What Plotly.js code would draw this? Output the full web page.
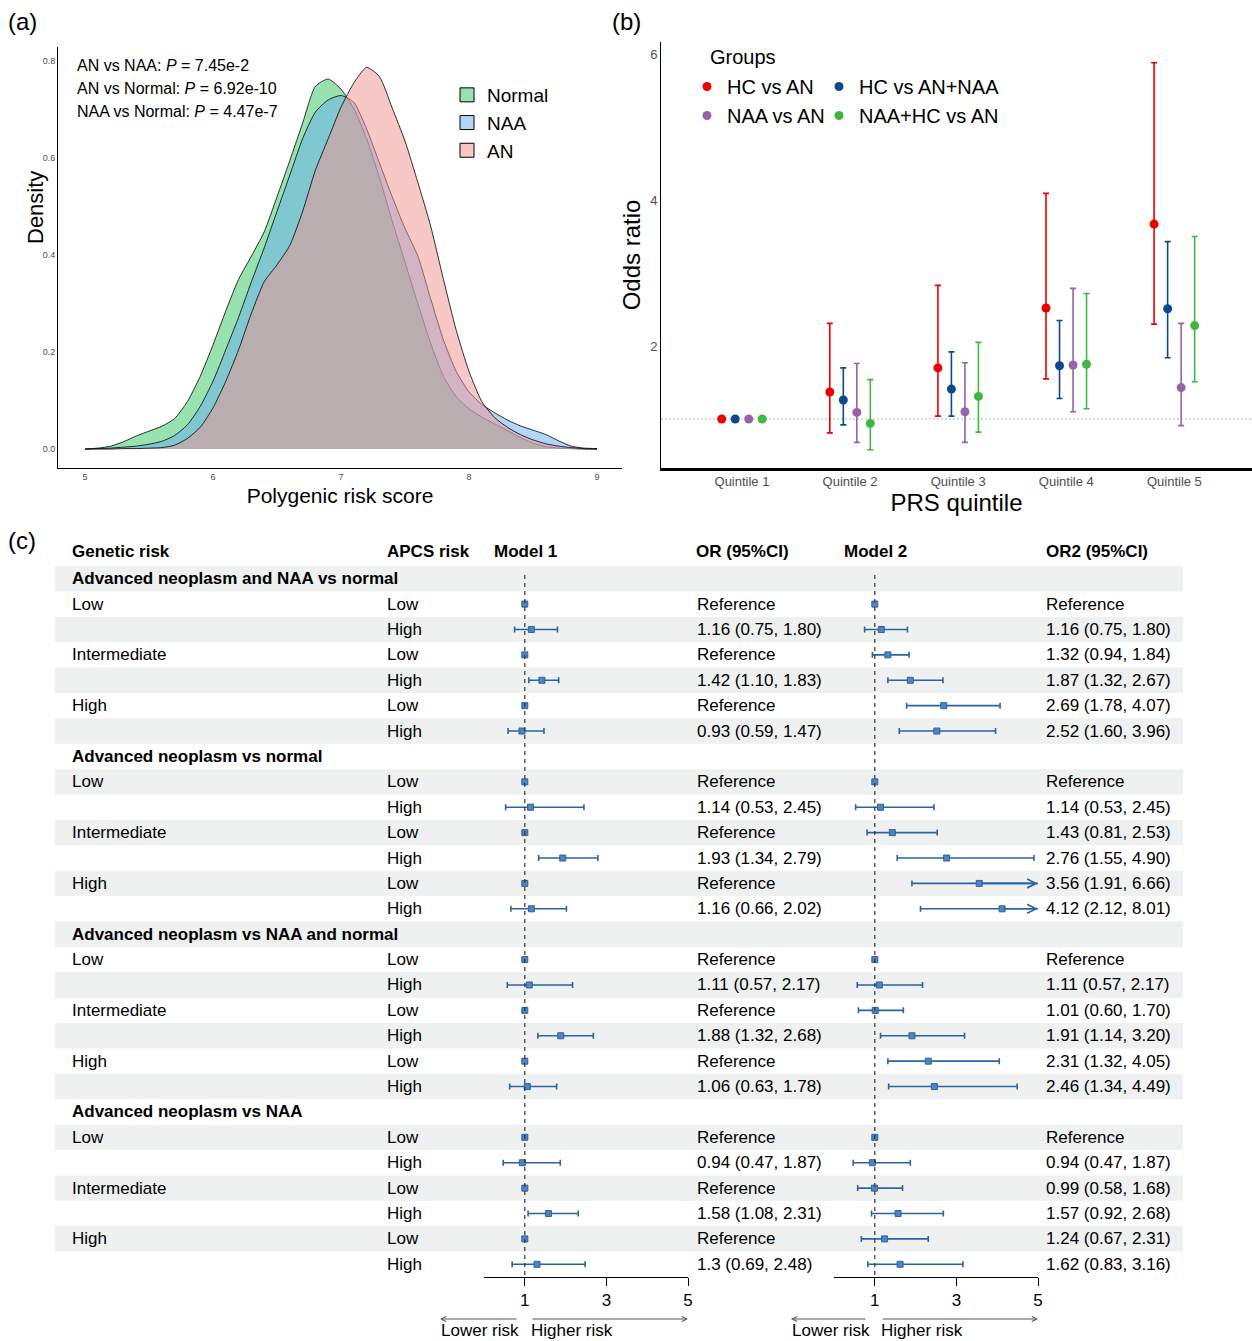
<!DOCTYPE html>
<html>
<head>
<meta charset="utf-8">
<script src="https://cdn.plot.ly/plotly-3.0.1.min.js"></script>
<style>
html,body{margin:0;padding:0;background:#ffffff;}
#chart{width:1252px;height:1341px;}
</style>
</head>
<body>
<div id="chart"></div>
<script>
/* ================= DATA ================= */
// Panel (a): density of polygenic risk score
const prsGrid = [5.0,5.1,5.2,5.3,5.4,5.5,5.6,5.7,5.8,5.9,6.0,6.1,6.2,6.3,6.4,6.5,6.6,6.7,6.8,6.9,7.0,7.1,7.2,7.3,7.4,7.5,7.6,7.7,7.8,7.9,8.0,8.1,8.2,8.3,8.4,8.5,8.6,8.7,8.8,8.9,9.0];
const densNormal = [0.000,0.002,0.006,0.015,0.027,0.037,0.047,0.063,0.098,0.150,0.215,0.285,0.350,0.398,0.448,0.520,0.595,0.672,0.748,0.763,0.742,0.702,0.640,0.560,0.470,0.385,0.300,0.218,0.150,0.108,0.083,0.066,0.052,0.038,0.024,0.012,0.005,0.002,0.001,0.000,0.000];
const densNAA    = [0.000,0.001,0.002,0.004,0.006,0.010,0.016,0.028,0.050,0.088,0.140,0.205,0.272,0.345,0.415,0.490,0.565,0.640,0.695,0.720,0.729,0.715,0.660,0.590,0.520,0.455,0.398,0.310,0.225,0.160,0.118,0.092,0.075,0.060,0.048,0.039,0.030,0.017,0.006,0.002,0.001];
const densAN     = [0.000,0.000,0.000,0.001,0.001,0.002,0.003,0.008,0.022,0.045,0.085,0.140,0.205,0.280,0.345,0.380,0.420,0.490,0.575,0.640,0.705,0.755,0.787,0.768,0.703,0.635,0.550,0.460,0.350,0.245,0.160,0.098,0.065,0.045,0.030,0.019,0.011,0.006,0.003,0.001,0.000];
const densGroups = ['Normal','NAA','AN'];
const pLabels = ['AN vs NAA: <i>P</i> = 7.45e-2','AN vs Normal: <i>P</i> = 6.92e-10','NAA vs Normal: <i>P</i> = 4.47e-7'];

// Panel (b): odds ratios by PRS quintile
const quintiles = ['Quintile 1','Quintile 2','Quintile 3','Quintile 4','Quintile 5'];
const orGroups = ['HC vs AN','HC vs AN+NAA','NAA vs AN','NAA+HC vs AN'];
const orHCvsAN      = [1.00,1.37,1.70,2.52,3.67];
const loHCvsAN      = [1.00,0.81,1.04,1.55,2.30];
const hiHCvsAN      = [1.00,2.31,2.83,4.09,5.88];
const orHCvsANNAA   = [1.00,1.26,1.41,1.73,2.51];
const loHCvsANNAA   = [1.00,0.92,1.04,1.28,1.84];
const hiHCvsANNAA   = [1.00,1.70,1.92,2.35,3.43];
const orNAAvsAN     = [1.00,1.09,1.10,1.74,1.43];
const loNAAvsAN     = [1.00,0.68,0.68,1.10,0.91];
const hiNAAvsAN     = [1.00,1.76,1.77,2.79,2.31];
const orNAAHCvsAN   = [1.00,0.94,1.31,1.75,2.28];
const loNAAHCvsAN   = [1.00,0.58,0.82,1.14,1.51];
const hiNAAHCvsAN   = [1.00,1.54,2.05,2.72,3.50];

// Panel (c): forest plot (comparison x genetic risk x APCS risk); null CI = Reference
const comparisons = ['Advanced neoplasm and NAA vs normal','Advanced neoplasm vs normal','Advanced neoplasm vs NAA and normal','Advanced neoplasm vs NAA'];
const geneticRisk = ['Low','Intermediate','High'];
const apcsRisk = ['Low','High'];
const m1Est = [1,1.16,1,1.42,1,0.93, 1,1.14,1,1.93,1,1.16, 1,1.11,1,1.88,1,1.06, 1,0.94,1,1.58,1,1.3];
const m1Lo  = [null,0.75,null,1.10,null,0.59, null,0.53,null,1.34,null,0.66, null,0.57,null,1.32,null,0.63, null,0.47,null,1.08,null,0.69];
const m1Hi  = [null,1.80,null,1.83,null,1.47, null,2.45,null,2.79,null,2.02, null,2.17,null,2.68,null,1.78, null,1.87,null,2.31,null,2.48];
const m2Est = [1,1.16,1.32,1.87,2.69,2.52, 1,1.14,1.43,2.76,3.56,4.12, 1,1.11,1.01,1.91,2.31,2.46, 1,0.94,0.99,1.57,1.24,1.62];
const m2Lo  = [null,0.75,0.94,1.32,1.78,1.60, null,0.53,0.81,1.55,1.91,2.12, null,0.57,0.60,1.14,1.32,1.34, null,0.47,0.58,0.92,0.67,0.83];
const m2Hi  = [null,1.80,1.84,2.67,4.07,3.96, null,2.45,2.53,4.90,6.66,8.01, null,2.17,1.70,3.20,4.05,4.49, null,1.87,1.68,2.68,2.31,3.16];
const forestTicks = [1,3,5];
const tableHeaders = ['Genetic risk','APCS risk','Model 1','OR (95%CI)','Model 2','OR2 (95%CI)'];

/* ================= HELPERS ================= */
const W = 1252, H = 1341;
const px = v => v / W;
const py = v => 1 - v / H;
const FONT = 'Liberation Sans, Arial, Helvetica, sans-serif';
const TX = -2; // annotation inner padding compensation
const traces = [];
const annotations = [];
const shapes = [];

/* ================= PANEL (a) ================= */
const densSeries = [densNormal, densNAA, densAN];
const densFill = ['rgba(49,197,97,0.5)','rgba(104,174,240,0.5)','rgba(241,145,141,0.5)'];
densGroups.forEach((g, i) => {
  traces.push({
    type:'scatter', mode:'lines', x: prsGrid, y: densSeries[i], xaxis:'x', yaxis:'y',
    fill:'tozeroy', fillcolor: densFill[i],
    line:{color:'#000', width:0.8, shape:'spline', smoothing:0.6},
    showlegend:false, hoverinfo:'skip'
  });
});
densGroups.forEach((g, i) => {
  traces.push({
    type:'scatter', mode:'markers', x:[null], y:[null], xaxis:'x', yaxis:'y', name: g,
    marker:{symbol:'square', size:14, color: densFill[i], line:{color:'#000', width:1}},
    legend:'legend', showlegend:true, hoverinfo:'skip'
  });
});
pLabels.forEach((t, i) => {
  annotations.push({xref:'paper', yref:'paper', x:px(77 + TX), y:py(66 + i*22.5), xanchor:'left', yanchor:'middle',
    text:t, showarrow:false, font:{size:16, color:'#000', family:FONT}});
});
// y-axis title of panel (a), placed close to the tick labels as in the reference
annotations.push({xref:'paper', yref:'paper', x:px(36), y:py(208), xanchor:'center', yanchor:'middle',
  text:'Density', textangle:-90, showarrow:false, font:{size:22, color:'#000', family:FONT}});

/* ================= PANEL (b) ================= */
const orEst = [orHCvsAN, orHCvsANNAA, orNAAvsAN, orNAAHCvsAN];
const orLo  = [loHCvsAN, loHCvsANNAA, loNAAvsAN, loNAAHCvsAN];
const orHi  = [hiHCvsAN, hiHCvsANNAA, hiNAAvsAN, hiNAAHCvsAN];
const orColor = ['#ec0000','#0c4a8c','#9762aa','#40b840'];
const dodge = [-0.1875,-0.0625,0.0625,0.1875];
orGroups.forEach((g, k) => {
  traces.push({
    type:'scatter', mode:'markers', name:g, xaxis:'x2', yaxis:'y2',
    x: quintiles.map((q, i) => i + dodge[k]),
    y: orEst[k],
    marker:{size:9, color:orColor[k]},
    error_y:{type:'data', symmetric:false,
      array: orEst[k].map((e, i) => orHi[k][i] - e),
      arrayminus: orEst[k].map((e, i) => e - orLo[k][i]),
      color: orColor[k], thickness:1.6, width:3},
    legend: (k % 2 === 0) ? 'legend2' : 'legend3',
    hoverinfo:'skip'
  });
});
shapes.push({type:'line', xref:'x2 domain', yref:'y2', x0:0, x1:1, y0:1, y1:1,
  line:{color:'#b5b5b5', width:1.2, dash:'2px,2px'}, layer:'below'});
annotations.push({xref:'paper', yref:'paper', x:px(710 + TX), y:py(57), xanchor:'left', yanchor:'middle',
  text:'Groups', showarrow:false, font:{size:20, color:'#000', family:FONT}});

/* ================= PANEL (c) ================= */
const pointRow = [];
const rowItems = [];
let rowIdx = 0;
comparisons.forEach((c, ci) => {
  rowItems.push({row: rowIdx, title: c});
  rowIdx++;
  geneticRisk.forEach((g, gi) => {
    apcsRisk.forEach((a, ai) => {
      const k = ci*6 + gi*2 + ai;
      pointRow[k] = rowIdx;
      rowItems.push({row: rowIdx, genetic: ai === 0 ? g : '', apcs: a, k: k});
      rowIdx++;
    });
  });
});
const nRows = rowIdx;

function fmtOR(est, lo, hi) {
  if (lo === null) return 'Reference';
  return String(est) + ' (' + lo.toFixed(2) + ', ' + hi.toFixed(2) + ')';
}

// shaded bands
for (let r = 0; r < nRows; r += 2) {
  shapes.push({type:'rect', xref:'paper', yref:'y3', x0:px(55), x1:px(1183), y0:r-0.5, y1:r+0.5,
    fillcolor:'#eef1f0', line:{width:0}, layer:'below'});
}
// reference lines at OR = 1
['x3','x4'].forEach((xa, j) => {
  shapes.push({type:'line', xref:xa, yref: j === 0 ? 'y3' : 'y4', x0:1, x1:1, y0:-0.15, y1:nRows-0.5,
    line:{color:'#333', width:1.2, dash:'4px,4px'}});
});

const forestColor = '#2b63a3';
function forestTrace(est, lo, hi, xa, ya) {
  return {
    type:'scatter', mode:'markers', x: est, y: pointRow, xaxis: xa, yaxis: ya,
    showlegend:false, hoverinfo:'skip',
    marker:{symbol:'square', size:6, color:'#4f84c0', line:{color:forestColor, width:1}},
    error_x:{type:'data', symmetric:false,
      array: est.map((e, i) => hi[i] === null ? NaN : hi[i] - e),
      arrayminus: est.map((e, i) => lo[i] === null ? NaN : e - lo[i]),
      color: forestColor, thickness:1.6, width:3}
  };
}
traces.push(forestTrace(m1Est, m1Lo, m1Hi, 'x3', 'y3'));
traces.push(forestTrace(m2Est, m2Lo, m2Hi, 'x4', 'y4'));

// arrows for intervals exceeding the axis maximum
const forestMax = forestTicks[forestTicks.length - 1];
[[m1Est, m1Hi, 'x3', 'y3'], [m2Est, m2Hi, 'x4', 'y4']].forEach(([est, hi, xa, ya]) => {
  est.forEach((e, i) => {
    if (hi[i] !== null && hi[i] > forestMax) {
      annotations.push({xref:xa, yref:ya, x:forestMax, y:pointRow[i], axref:xa, ayref:ya, ax:e, ay:pointRow[i],
        text:'', showarrow:true, arrowhead:5, arrowsize:1.1, arrowwidth:1.6, arrowcolor:forestColor, standoff:0});
    }
  });
});

// header
const headerX = [72, 387, 494, 696, 844, 1046];
tableHeaders.forEach((t, i) => {
  annotations.push({xref:'paper', yref:'paper', x:px(headerX[i] + TX), y:py(551), xanchor:'left', yanchor:'middle',
    text:'<b>' + t + '</b>', showarrow:false, font:{size:17, color:'#000', family:FONT}});
});
// rows
rowItems.forEach(it => {
  const base = {xref:'paper', yref:'y3', y:it.row, xanchor:'left', yanchor:'middle', showarrow:false,
    font:{size:17, color:'#000', family:FONT}};
  if (it.title) {
    annotations.push(Object.assign({}, base, {x:px(72 + TX), text:'<b>' + it.title + '</b>'}));
    return;
  }
  if (it.genetic) annotations.push(Object.assign({}, base, {x:px(72 + TX), text:it.genetic}));
  annotations.push(Object.assign({}, base, {x:px(387 + TX), text:it.apcs}));
  annotations.push(Object.assign({}, base, {x:px(697 + TX), text:fmtOR(m1Est[it.k], m1Lo[it.k], m1Hi[it.k])}));
  annotations.push(Object.assign({}, base, {x:px(1046 + TX), text:fmtOR(m2Est[it.k], m2Lo[it.k], m2Hi[it.k])}));
});
// lower / higher risk arrows
[[440, 518, 531, 688], [791, 867, 881, 1038]].forEach(([lh, lt, rt, rh]) => {
  annotations.push({xref:'paper', yref:'paper', x:px(lh), y:py(1319), ax:lt-lh, ay:0, text:'',
    showarrow:true, arrowhead:5, arrowsize:1, arrowwidth:1, arrowcolor:'#555', standoff:0});
  annotations.push({xref:'paper', yref:'paper', x:px(rh), y:py(1319), ax:rt-rh, ay:0, text:'',
    showarrow:true, arrowhead:5, arrowsize:1, arrowwidth:1, arrowcolor:'#555', standoff:0});
  annotations.push({xref:'paper', yref:'paper', x:px(lh + 1 + TX), y:py(1330), xanchor:'left', yanchor:'middle',
    text:'Lower risk', showarrow:false, font:{size:17, color:'#000', family:FONT}});
  annotations.push({xref:'paper', yref:'paper', x:px(rt + TX), y:py(1330), xanchor:'left', yanchor:'middle',
    text:'Higher risk', showarrow:false, font:{size:17, color:'#000', family:FONT}});
});

// panel labels
[['(a)',8,22],['(b)',612,22],['(c)',8,541]].forEach(([t, x, y]) => {
  annotations.push({xref:'paper', yref:'paper', x:px(x + TX), y:py(y), xanchor:'left', yanchor:'middle',
    text:t, showarrow:false, font:{size:24, color:'#000', family:FONT}});
});

/* ================= LAYOUT ================= */
const axBase = {showgrid:false, zeroline:false, showline:true, linecolor:'#000', ticks:''};
const layout = {
  width:W, height:H,
  margin:{l:0, r:0, t:0, b:0},
  paper_bgcolor:'#ffffff', plot_bgcolor:'rgba(0,0,0,0)',
  font:{family:FONT, color:'#000'},
  showlegend:true,
  hovermode:false,
  xaxis: Object.assign({}, axBase, {domain:[px(58), px(622)], range:[4.789, 9.195], anchor:'y', linewidth:1.2,
    tickvals:[5,6,7,8,9], tickfont:{size:9, color:'#4d4d4d'},
    title:{text:'Polygenic risk score', font:{size:21, color:'#000'}, standoff:7}}),
  yaxis: Object.assign({}, axBase, {domain:[py(468), py(47)], range:[-0.039, 0.829], anchor:'x', linewidth:1,
    tickvals:[0,0.2,0.4,0.6,0.8], tickformat:'.1f', tickfont:{size:9, color:'#4d4d4d'}}),
  xaxis2: Object.assign({}, axBase, {domain:[px(661), 1], range:[-0.749, 4.718], anchor:'y2', linewidth:2.5,
    tickvals:[0,1,2,3,4], ticktext:quintiles, tickfont:{size:13, color:'#4d4d4d'},
    title:{text:'PRS quintile', font:{size:24, color:'#000'}, standoff:5}}),
  yaxis2: Object.assign({}, axBase, {domain:[py(468), py(42)], range:[0.329, 6.164], anchor:'x2', linewidth:1,
    tickvals:[2,4,6], tickfont:{size:13, color:'#4d4d4d'},
    title:{text:'Odds ratio', font:{size:24, color:'#000'}, standoff:2}}),
  xaxis3: Object.assign({}, axBase, {domain:[px(484), px(688)], range:[0,5], anchor:'y3', linewidth:1,
    ticks:'outside', ticklen:8, tickcolor:'#000', tickvals:forestTicks, tickfont:{size:17, color:'#000'}}),
  yaxis3: {domain:[py(1277), py(566)], range:[nRows-0.5, -0.5], anchor:'x3', visible:false, showgrid:false, zeroline:false},
  xaxis4: Object.assign({}, axBase, {domain:[px(834), px(1038)], range:[0,5], anchor:'y4', linewidth:1,
    ticks:'outside', ticklen:8, tickcolor:'#000', tickvals:forestTicks, tickfont:{size:17, color:'#000'}}),
  yaxis4: {domain:[py(1277), py(566)], range:[nRows-0.5, -0.5], anchor:'x4', visible:false, showgrid:false, zeroline:false},
  legend: {x:px(447), xanchor:'left', y:py(76), yanchor:'top', orientation:'v', bgcolor:'rgba(0,0,0,0)',
    borderwidth:0, font:{size:19, color:'#000'}, itemclick:false, itemdoubleclick:false},
  legend2: {x:px(687), xanchor:'left', y:py(67), yanchor:'top', orientation:'v', bgcolor:'rgba(0,0,0,0)',
    borderwidth:0, font:{size:20, color:'#000'}, itemclick:false, itemdoubleclick:false},
  legend3: {x:px(819), xanchor:'left', y:py(67), yanchor:'top', orientation:'v', bgcolor:'rgba(0,0,0,0)',
    borderwidth:0, font:{size:20, color:'#000'}, itemclick:false, itemdoubleclick:false},
  shapes: shapes,
  annotations: annotations
};

Plotly.newPlot('chart', traces, layout, {displayModeBar:false, staticPlot:true});
</script>
</body>
</html>
